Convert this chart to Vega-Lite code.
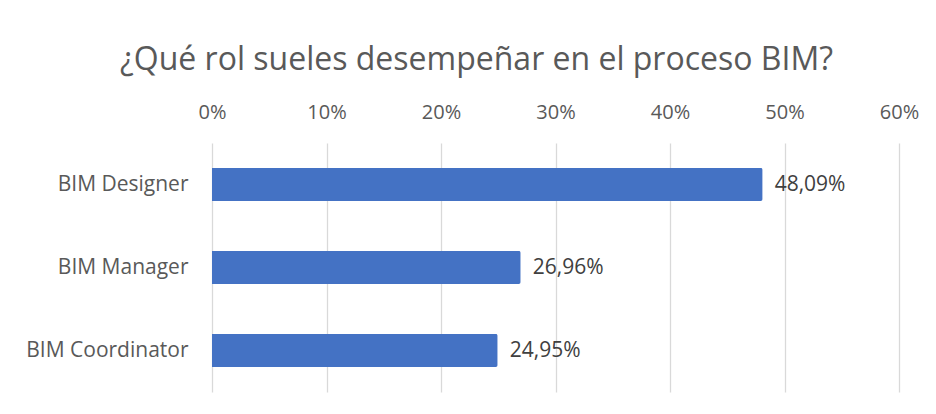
{
  "$schema": "https://vega.github.io/schema/vega-lite/v6.json",
  "autosize": {"type": "none"},
  "width": 687,
  "height": 249,
  "padding": {"left": 212, "top": 143, "right": 37, "bottom": 22},
  "background": "white",
  "config": {
    "view": {"stroke": null},
    "font": "Open Sans",
    "locale": {"number": {"decimal": ",", "thousands": ".", "grouping": [3], "currency": ["", " €"]}}
  },
  "title": {
    "text": "¿Qué rol sueles desempeñar en el proceso BIM?",
    "fontSize": 32,
    "fontWeight": "normal",
    "color": "#595959",
    "anchor": "middle",
    "baseline": "alphabetic",
    "dx": -79,
    "offset": 0
  },
  "data": {
    "values": [
      {"rol": "BIM Designer", "pct": 0.4809},
      {"rol": "BIM Manager", "pct": 0.2696},
      {"rol": "BIM Coordinator", "pct": 0.2495}
    ]
  },
  "encoding": {
    "y": {
      "field": "rol",
      "type": "nominal",
      "sort": null,
      "scale": {"paddingInner": 0.6, "paddingOuter": 0.3},
      "axis": {
        "title": null,
        "domain": false,
        "ticks": false,
        "labelPadding": 24,
        "labelFontSize": 21,
        "labelColor": "#595959"
      }
    },
    "x": {
      "field": "pct",
      "type": "quantitative",
      "scale": {"domain": [0, 0.6], "nice": false},
      "axis": {
        "orient": "top",
        "title": null,
        "format": ".0%",
        "values": [0, 0.1, 0.2, 0.3, 0.4, 0.5, 0.6],
        "domain": false,
        "ticks": false,
        "grid": true,
        "gridColor": "#d9d9d9",
        "gridWidth": 1.3,
        "labelPadding": 25,
        "labelBaseline": "alphabetic",
        "labelFontSize": 20,
        "labelColor": "#595959",
        "labelFlush": false
      }
    }
  },
  "layer": [
    {
      "mark": {"type": "bar", "color": "#4472C4", "cornerRadiusEnd": 2}
    },
    {
      "mark": {"type": "text", "align": "left", "baseline": "middle", "dx": 12, "fontSize": 21, "color": "#404040"},
      "encoding": {
        "text": {"field": "pct", "type": "quantitative", "format": ".2%"}
      }
    }
  ]
}
